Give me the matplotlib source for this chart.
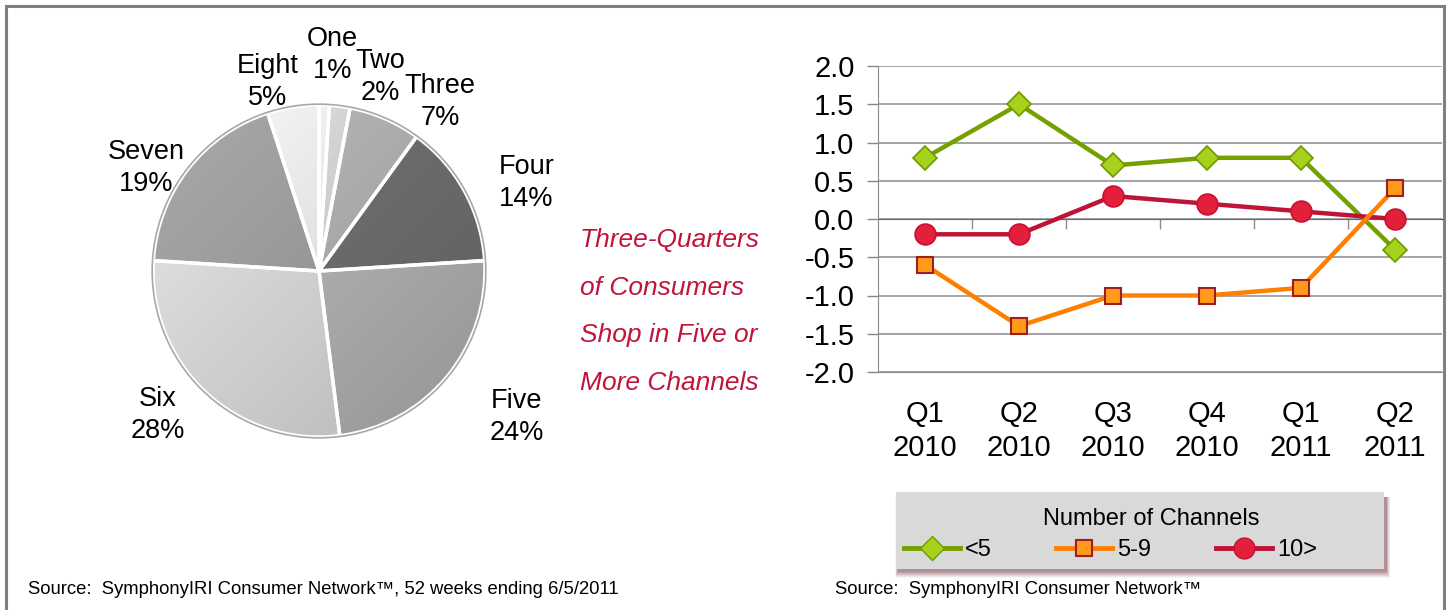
import numpy as np
import matplotlib.pyplot as plt
from matplotlib.patches import Rectangle
from matplotlib.lines import Line2D
from matplotlib.colors import to_rgb

plt.rcParams['font.family'] = ['Liberation Sans', 'DejaVu Sans']
plt.rcParams['axes.unicode_minus'] = False

# ---------------------------------------------------------------- data
pie_labels = ['One', 'Two', 'Three', 'Four', 'Five', 'Six', 'Seven', 'Eight']
pie_values = [1, 2, 7, 14, 24, 28, 19, 5]

quarters = ['Q1\n2010', 'Q2\n2010', 'Q3\n2010', 'Q4\n2010', 'Q1\n2011', 'Q2\n2011']
lt5 = [0.8, 1.5, 0.7, 0.8, 0.8, -0.4]
s5to9 = [-0.6, -1.4, -1.0, -1.0, -0.9, 0.4]
gt10 = [-0.2, -0.2, 0.3, 0.2, 0.1, 0.0]
series_names = ['<5', '5-9', '10>']

callout = ['Three-Quarters', 'of Consumers', 'Shop in Five or', 'More Channels']

# ---------------------------------------------------------------- figure
W, H = 1447, 610
fig = plt.figure(figsize=(W / 100, H / 100), dpi=100)

def px(x0, y0, x1, y1):
    # pixel box (top-left origin) -> figure fraction rect
    return [x0 / W, 1 - y1 / H, (x1 - x0) / W, (y1 - y0) / H]

def fig_rect(x0, y0, x1, y1, **kw):
    r = px(x0, y0, x1, y1)
    fig.patches.append(Rectangle((r[0], r[1]), r[2], r[3], transform=fig.transFigure, **kw))

# outer frame
fig.patches.append(Rectangle((6 / W, -0.02), (1444 - 6) / W, 1.02 - 6 / H,
                             transform=fig.transFigure, fill=False,
                             edgecolor='#808080', linewidth=2.2))

# ---------------------------------------------------------------- pie
R = 166
cx, cy = 319, 271
L = 1.6
ax1 = fig.add_axes(px(cx - L * R, cy - L * R, cx + L * R, cy + L * R))

pie_colors = ['#E2E2E2', '#CACACA', '#A8A8A8', '#6A6A6A',
              '#ABABAB', '#CFCFCF', '#979797', '#E0E0E0']
wedges, _ = ax1.pie(pie_values, colors=pie_colors, startangle=90, counterclock=False,
                    radius=1, wedgeprops=dict(edgecolor='white', linewidth=2.5))

# soft shading: lighter towards upper-left, darker towards lower-right
gx, gy = np.meshgrid(np.linspace(-1, 1, 300), np.linspace(1, -1, 300))
shade = 1 + 0.13 * (gy - gx) / 2
for w, c in zip(wedges, pie_colors):
    img = np.clip(np.array(to_rgb(c))[None, None, :] * shade[:, :, None], 0, 1)
    im = ax1.imshow(img, extent=[-1, 1, -1, 1], zorder=1, interpolation='bilinear')
    im.set_clip_path(w)
    w.set_facecolor('none')
    w.set_zorder(2)
ax1.add_patch(plt.Circle((0, 0), 1.005, fill=False, edgecolor='#A8A8A8', linewidth=1.2, zorder=3))
ax1.set_xlim(-L, L)
ax1.set_ylim(-L, L)
ax1.set_aspect('equal')
ax1.axis('off')

label_pos = [(0.08, 1.30), (0.37, 1.17), (0.73, 1.02), (1.25, 0.53),
             (1.19, -0.88), (-0.97, -0.87), (-1.04, 0.62), (-0.31, 1.14)]
for name, v, (lx, ly) in zip(pie_labels, pie_values, label_pos):
    ax1.text(lx, ly, f'{name}\n{v}%', ha='center', va='center',
             fontsize=19.5, linespacing=1.3, color='black')

# callout text
for i, line in enumerate(callout):
    fig.text(580 / W, 1 - (240 + i * 47.7) / H, line, fontsize=19, style='italic',
             color='#C0143C', ha='left', va='center')

# ---------------------------------------------------------------- line chart
ax2 = fig.add_axes(px(878, 66, 1442, 372))
x = np.arange(len(quarters))
ax2.plot(x, lt5, color='#76A000', lw=3.2, marker='D', ms=12,
         mfc='#A6D21E', mec='#6E9A00', mew=1.2, zorder=3)
ax2.plot(x, gt10, color='#BE1437', lw=3.2, marker='o', ms=15,
         mfc='#E2203C', mec='#C81030', mew=1.2, zorder=3)
ax2.plot(x, s5to9, color='#FF8000', lw=3.2, marker='s', ms=11,
         mfc='#FF9A1A', mec='#9B2020', mew=1.5, zorder=4)

ax2.set_xlim(-0.5, len(quarters) - 0.5)
ax2.set_ylim(-2, 2)
ax2.set_yticks(np.arange(-2, 2.01, 0.5))
ax2.set_yticklabels([f'{v:.1f}' for v in np.arange(-2, 2.01, 0.5)])
ax2.set_xticks(x)
ax2.set_xticklabels(quarters, linespacing=1.3)
ax2.tick_params(axis='x', length=0, pad=20, labelsize=21)
ax2.tick_params(axis='y', length=8, width=1, color='#888888', pad=9, labelsize=21)
ax2.grid(axis='y', color='#8C8C8C', lw=1.1)
ax2.set_axisbelow(True)
for s in ['top', 'right']:
    ax2.spines[s].set_visible(False)
ax2.spines['left'].set_color('#8C8C8C')
ax2.spines['bottom'].set_color('#8C8C8C')

# category axis crossing at zero with boundary tick marks
sec = ax2.secondary_xaxis(0.5)
sec.set_xticks(np.arange(0.5, len(quarters) - 1, 1.0))
sec.set_xticklabels([])
sec.tick_params(direction='in', length=7, color='#8C8C8C', width=1)

# legend box with soft shadow
bx0, by0, bx1, by1 = 896, 492, 1384, 569
for k, a in zip(range(7, 0, -1), [0.05, 0.07, 0.09, 0.11, 0.13, 0.15, 0.17]):
    fig_rect(bx0 + 2 - k * 0.4, by0 + 5, bx1 + 2 + k * 0.6, by1 + 2 + k,
             facecolor='#7A3A45', edgecolor='none', alpha=a)
fig_rect(bx0, by0, bx1, by1, facecolor='#D9D9D9', edgecolor='none')
fig.text(1151 / W, 1 - 519 / H, 'Number of Channels', fontsize=17, ha='center', va='center')

handles = [
    Line2D([], [], color='#76A000', lw=3.5, marker='D', ms=12, mfc='#A6D21E', mec='#6E9A00'),
    Line2D([], [], color='#FF8000', lw=3.5, marker='s', ms=11, mfc='#FF9A1A', mec='#9B2020', mew=1.5),
    Line2D([], [], color='#BE1437', lw=3.5, marker='o', ms=15, mfc='#E2203C', mec='#C81030'),
]
leg = fig.legend(handles, series_names, ncol=3,
                 loc='center left', bbox_to_anchor=(904 / W, 1 - 550 / H),
                 borderaxespad=0, borderpad=0, fontsize=17, handlelength=2.37,
                 handletextpad=0.2, columnspacing=2.75, frameon=False)

# sources
fig.text(28 / W, 1 - 590 / H, 'Source:  SymphonyIRI Consumer Network\u2122, 52 weeks ending 6/5/2011',
         fontsize=13.3, va='center', ha='left')
fig.text(835 / W, 1 - 590 / H, 'Source:  SymphonyIRI Consumer Network\u2122',
         fontsize=13.3, va='center', ha='left')

fig.savefig('out.png', dpi=100)
